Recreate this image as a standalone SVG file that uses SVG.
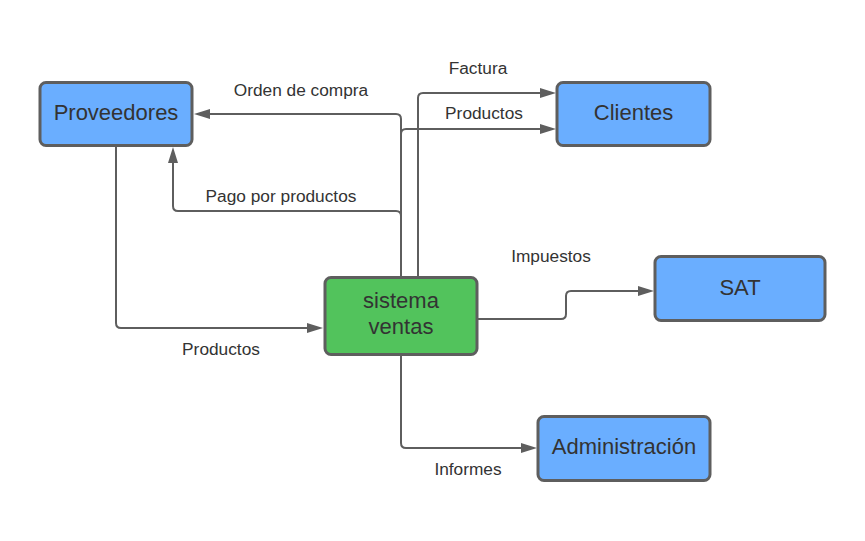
<svg xmlns="http://www.w3.org/2000/svg" width="865" height="541" viewBox="0 0 865 541">
<defs>
<style>
.box{stroke:#5e5e5e;stroke-width:3}
.blue{fill:#6aaeff}
.green{fill:#52c35c}
.nt{font-family:"Liberation Sans",Arial,sans-serif;font-size:22px;fill:#333333;text-anchor:middle}
.lt{font-family:"Liberation Sans",Arial,sans-serif;font-size:17.3px;fill:#333333;text-anchor:middle}
.ln{fill:none;stroke:#5e5e5e;stroke-width:2;stroke-linejoin:round}
</style>
<marker id="ah" markerUnits="userSpaceOnUse" markerWidth="17" markerHeight="11" refX="0" refY="5" orient="auto" viewBox="0 0 17 10">
<path d="M0,0 L16,5 L0,10 z" fill="#5e5e5e"/>
</marker>
</defs>
<rect width="865" height="541" fill="#ffffff"/>
<g id="connectors">
<path class="ln" marker-end="url(#ah)" d="M116,146 V323 Q116,328 121,328 H307"/>
<path class="ln" marker-end="url(#ah)" d="M401,277 V119 Q401,114 396,114 H210"/>
<path class="ln" marker-end="url(#ah)" d="M401,277 V216 Q401,211 396,211 H178 Q173,211 173,206 V163"/>
<path class="ln" marker-end="url(#ah)" d="M401,277 V134 Q401,129 406,129 H540"/>
<path class="ln" marker-end="url(#ah)" d="M418,277 V98 Q418,93 423,93 H540"/>
<path class="ln" marker-end="url(#ah)" d="M478,319 H561 Q566,319 566,314 V296 Q566,291 571,291 H638"/>
<path class="ln" marker-end="url(#ah)" d="M401,355 V443 Q401,448 406,448 H521"/>
<text class="lt" x="301" y="96">Orden de compra</text>
<text class="lt" x="281" y="201.5">Pago por productos</text>
<text class="lt" x="478" y="74">Factura</text>
<text class="lt" x="484" y="119">Productos</text>
<text class="lt" x="551" y="262">Impuestos</text>
<text class="lt" x="221" y="355">Productos</text>
<text class="lt" x="468" y="475">Informes</text>
</g>
<g id="proveedores">
<rect class="box blue" x="40" y="82.5" width="152" height="63" rx="6"/>
<text class="nt" x="116" y="119.5">Proveedores</text>
</g>
<g id="clientes">
<rect class="box blue" x="557" y="82.5" width="153" height="63" rx="6"/>
<text class="nt" x="633.5" y="120">Clientes</text>
</g>
<g id="sat">
<rect class="box blue" x="655" y="256.5" width="170" height="64" rx="6"/>
<text class="nt" x="740" y="294.5">SAT</text>
</g>
<g id="sistema">
<rect class="box green" x="325" y="277.5" width="152" height="77" rx="6"/>
<text class="nt" x="401" y="308">sistema</text>
<text class="nt" x="401" y="334">ventas</text>
</g>
<g id="administracion">
<rect class="box blue" x="538" y="416.5" width="172" height="64" rx="6"/>
<text class="nt" x="624" y="453.5">Administración</text>
</g>
</svg>
